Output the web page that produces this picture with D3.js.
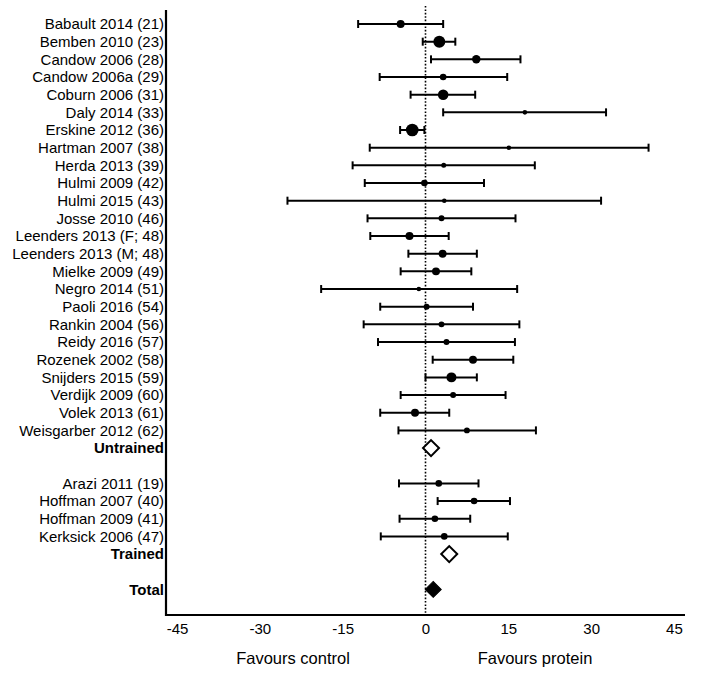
<!DOCTYPE html>
<html>
<head>
<meta charset="utf-8">
<script src="https://cdn.jsdelivr.net/npm/d3@7"></script>
<style>
  html, body { margin: 0; padding: 0; background: #fff; }
  svg { display: block; font-family: "Liberation Sans", Arial, sans-serif; }
</style>
</head>
<body>
<svg id="chart" width="708" height="682"></svg>
<script>
// ---- Data ----
const untrainedLabels = [
  "Babault 2014 (21)", "Bemben 2010 (23)", "Candow 2006 (28)", "Candow 2006a (29)",
  "Coburn 2006 (31)", "Daly 2014 (33)", "Erskine 2012 (36)", "Hartman 2007 (38)",
  "Herda 2013 (39)", "Hulmi 2009 (42)", "Hulmi 2015 (43)", "Josse 2010 (46)",
  "Leenders 2013 (F; 48)", "Leenders 2013 (M; 48)", "Mielke 2009 (49)", "Negro 2014 (51)",
  "Paoli 2016 (54)", "Rankin 2004 (56)", "Reidy 2016 (57)", "Rozenek 2002 (58)",
  "Snijders 2015 (59)", "Verdijk 2009 (60)", "Volek 2013 (61)", "Weisgarber 2012 (62)"
];
const untrainedEffect = [-4.5, 2.5, 9.2, 3.2, 3.2, 18.0, -2.4, 15.1, 3.3, -0.2, 3.4, 2.9,
  -2.9, 3.1, 1.9, -1.2, 0.2, 2.9, 3.8, 8.6, 4.7, 5.0, -1.9, 7.5];
const untrainedLower = [-12.2, -0.5, 1.0, -8.3, -2.7, 3.2, -4.6, -10.1, -13.2, -11.0, -25.0, -10.5,
  -10.0, -3.1, -4.5, -18.9, -8.2, -11.2, -8.6, 1.3, 0.0, -4.5, -8.2, -4.9];
const untrainedUpper = [3.2, 5.4, 17.2, 14.8, 9.0, 32.7, -0.2, 40.4, 19.8, 10.6, 31.8, 16.3,
  4.2, 9.3, 8.3, 16.6, 8.6, 17.0, 16.2, 15.9, 9.3, 14.5, 4.3, 20.0];
const untrainedWeight = [16, 36, 18, 11, 28, 5.3, 40, 5.3, 6.3, 11, 5.3, 9,
  16, 16, 16, 5.3, 9, 9, 9, 16, 25, 9, 16, 9];

const trainedLabels = ["Arazi 2011 (19)", "Hoffman 2007 (40)", "Hoffman 2009 (41)", "Kerksick 2006 (47)"];
const trainedEffect = [2.4, 8.8, 1.7, 3.4];
const trainedLower = [-4.8, 2.2, -4.7, -8.1];
const trainedUpper = [9.6, 15.3, 8.1, 14.9];
const trainedWeight = [11, 11, 11, 11];

const summaryLabels = ["Untrained", "Trained", "Total"];
const summaryEffect = [1.0, 4.3, 1.4];
const summaryFilled = [false, false, true];

const xTicks = [-45, -30, -15, 0, 15, 30, 45];
const xDomain = [-47, 47];
const leftNote = "Favours control";
const rightNote = "Favours protein";

// ---- Build row list ----
const rows = [];
untrainedLabels.forEach((l, i) => rows.push({label: l, type: "study", eff: untrainedEffect[i], lo: untrainedLower[i], hi: untrainedUpper[i], w: untrainedWeight[i]}));
rows.push({label: summaryLabels[0], type: "summary", eff: summaryEffect[0], filled: summaryFilled[0]});
rows.push({label: "", type: "blank"});
trainedLabels.forEach((l, i) => rows.push({label: l, type: "study", eff: trainedEffect[i], lo: trainedLower[i], hi: trainedUpper[i], w: trainedWeight[i]}));
rows.push({label: summaryLabels[1], type: "summary", eff: summaryEffect[1], filled: summaryFilled[1]});
rows.push({label: "", type: "blank"});
rows.push({label: summaryLabels[2], type: "summary", eff: summaryEffect[2], filled: summaryFilled[2]});
rows.forEach((r, i) => r.idx = i);

// ---- Scales ----
const svg = d3.select("#chart");
const plotLeft = 166, plotRight = 685, axisY = 615, topY = 10;
const x = d3.scaleLinear().domain(xDomain).range([plotLeft, plotRight]);
const y = d3.scaleLinear().domain([0, rows.length - 1]).range([24, 589.4]);
const r = d3.scaleSqrt().domain([0, 40]).range([0, 6.3]);

// zero reference line (dotted)
svg.append("line")
  .attr("x1", x(0)).attr("x2", x(0))
  .attr("y1", 6).attr("y2", axisY)
  .attr("stroke", "#000").attr("stroke-width", 1.6)
  .attr("stroke-dasharray", "1.6,1.8");

// ---- Study rows ----
const studies = rows.filter(d => d.type === "study");
const g = svg.append("g");
g.selectAll("line.ci").data(studies).join("line")
  .attr("class", "ci")
  .attr("x1", d => x(d.lo)).attr("x2", d => x(d.hi))
  .attr("y1", d => y(d.idx)).attr("y2", d => y(d.idx))
  .attr("stroke", "#000").attr("stroke-width", 2);
g.selectAll("line.capL").data(studies).join("line")
  .attr("class", "capL")
  .attr("x1", d => x(d.lo)).attr("x2", d => x(d.lo))
  .attr("y1", d => y(d.idx) - 4).attr("y2", d => y(d.idx) + 4)
  .attr("stroke", "#000").attr("stroke-width", 2);
g.selectAll("line.capR").data(studies).join("line")
  .attr("class", "capR")
  .attr("x1", d => x(d.hi)).attr("x2", d => x(d.hi))
  .attr("y1", d => y(d.idx) - 4).attr("y2", d => y(d.idx) + 4)
  .attr("stroke", "#000").attr("stroke-width", 2);
g.selectAll("circle.pt").data(studies).join("circle")
  .attr("class", "pt")
  .attr("cx", d => x(d.eff)).attr("cy", d => y(d.idx))
  .attr("r", d => r(d.w))
  .attr("fill", "#000");

// ---- Summary diamonds ----
const summaries = rows.filter(d => d.type === "summary");
const diamond = d3.symbol().type(d3.symbolSquare).size(128);
g.selectAll("path.dia").data(summaries).join("path")
  .attr("class", "dia")
  .attr("d", diamond)
  .attr("transform", d => `translate(${x(d.eff)},${y(d.idx)}) rotate(45)`)
  .attr("fill", d => d.filled ? "#000" : "#fff")
  .attr("stroke", "#000")
  .attr("stroke-width", d => d.filled ? 1 : 2);

// ---- Axes ----
const xAxis = d3.axisBottom(x).tickValues(xTicks).tickSize(0).tickPadding(8)
  .tickFormat(d3.format("d"));
const gx = svg.append("g").attr("transform", `translate(0,${axisY})`).call(xAxis);
gx.select(".domain").remove();
gx.selectAll("text").attr("font-size", 15).attr("font-family", "Liberation Sans, Arial, sans-serif")
  .text(d => d < 0 ? "-" + Math.abs(d) : d);
svg.append("line")
  .attr("x1", plotLeft).attr("x2", plotRight)
  .attr("y1", axisY).attr("y2", axisY)
  .attr("stroke", "#000").attr("stroke-width", 2.2);

const yAxis = d3.axisLeft(y)
  .tickValues(rows.filter(d => d.type !== "blank").map(d => d.idx))
  .tickSize(0).tickPadding(2)
  .tickFormat(i => rows[i].label);
const gy = svg.append("g").attr("transform", `translate(${plotLeft},0)`).call(yAxis);
gy.select(".domain").remove();
gy.selectAll("text")
  .attr("font-size", 15)
  .attr("font-family", "Liberation Sans, Arial, sans-serif")
  .attr("fill", "#000")
  .attr("font-weight", i => rows[i].type === "summary" ? "bold" : "normal");
svg.append("line")
  .attr("x1", plotLeft).attr("x2", plotLeft)
  .attr("y1", topY).attr("y2", axisY + 1.1)
  .attr("stroke", "#000").attr("stroke-width", 2.2);

// ---- Direction notes ----
svg.append("text").attr("x", 293).attr("y", 664).attr("text-anchor", "middle")
  .attr("font-size", 16.5).text(leftNote);
svg.append("text").attr("x", 535).attr("y", 664).attr("text-anchor", "middle")
  .attr("font-size", 16.5).text(rightNote);
</script>
</body>
</html>
